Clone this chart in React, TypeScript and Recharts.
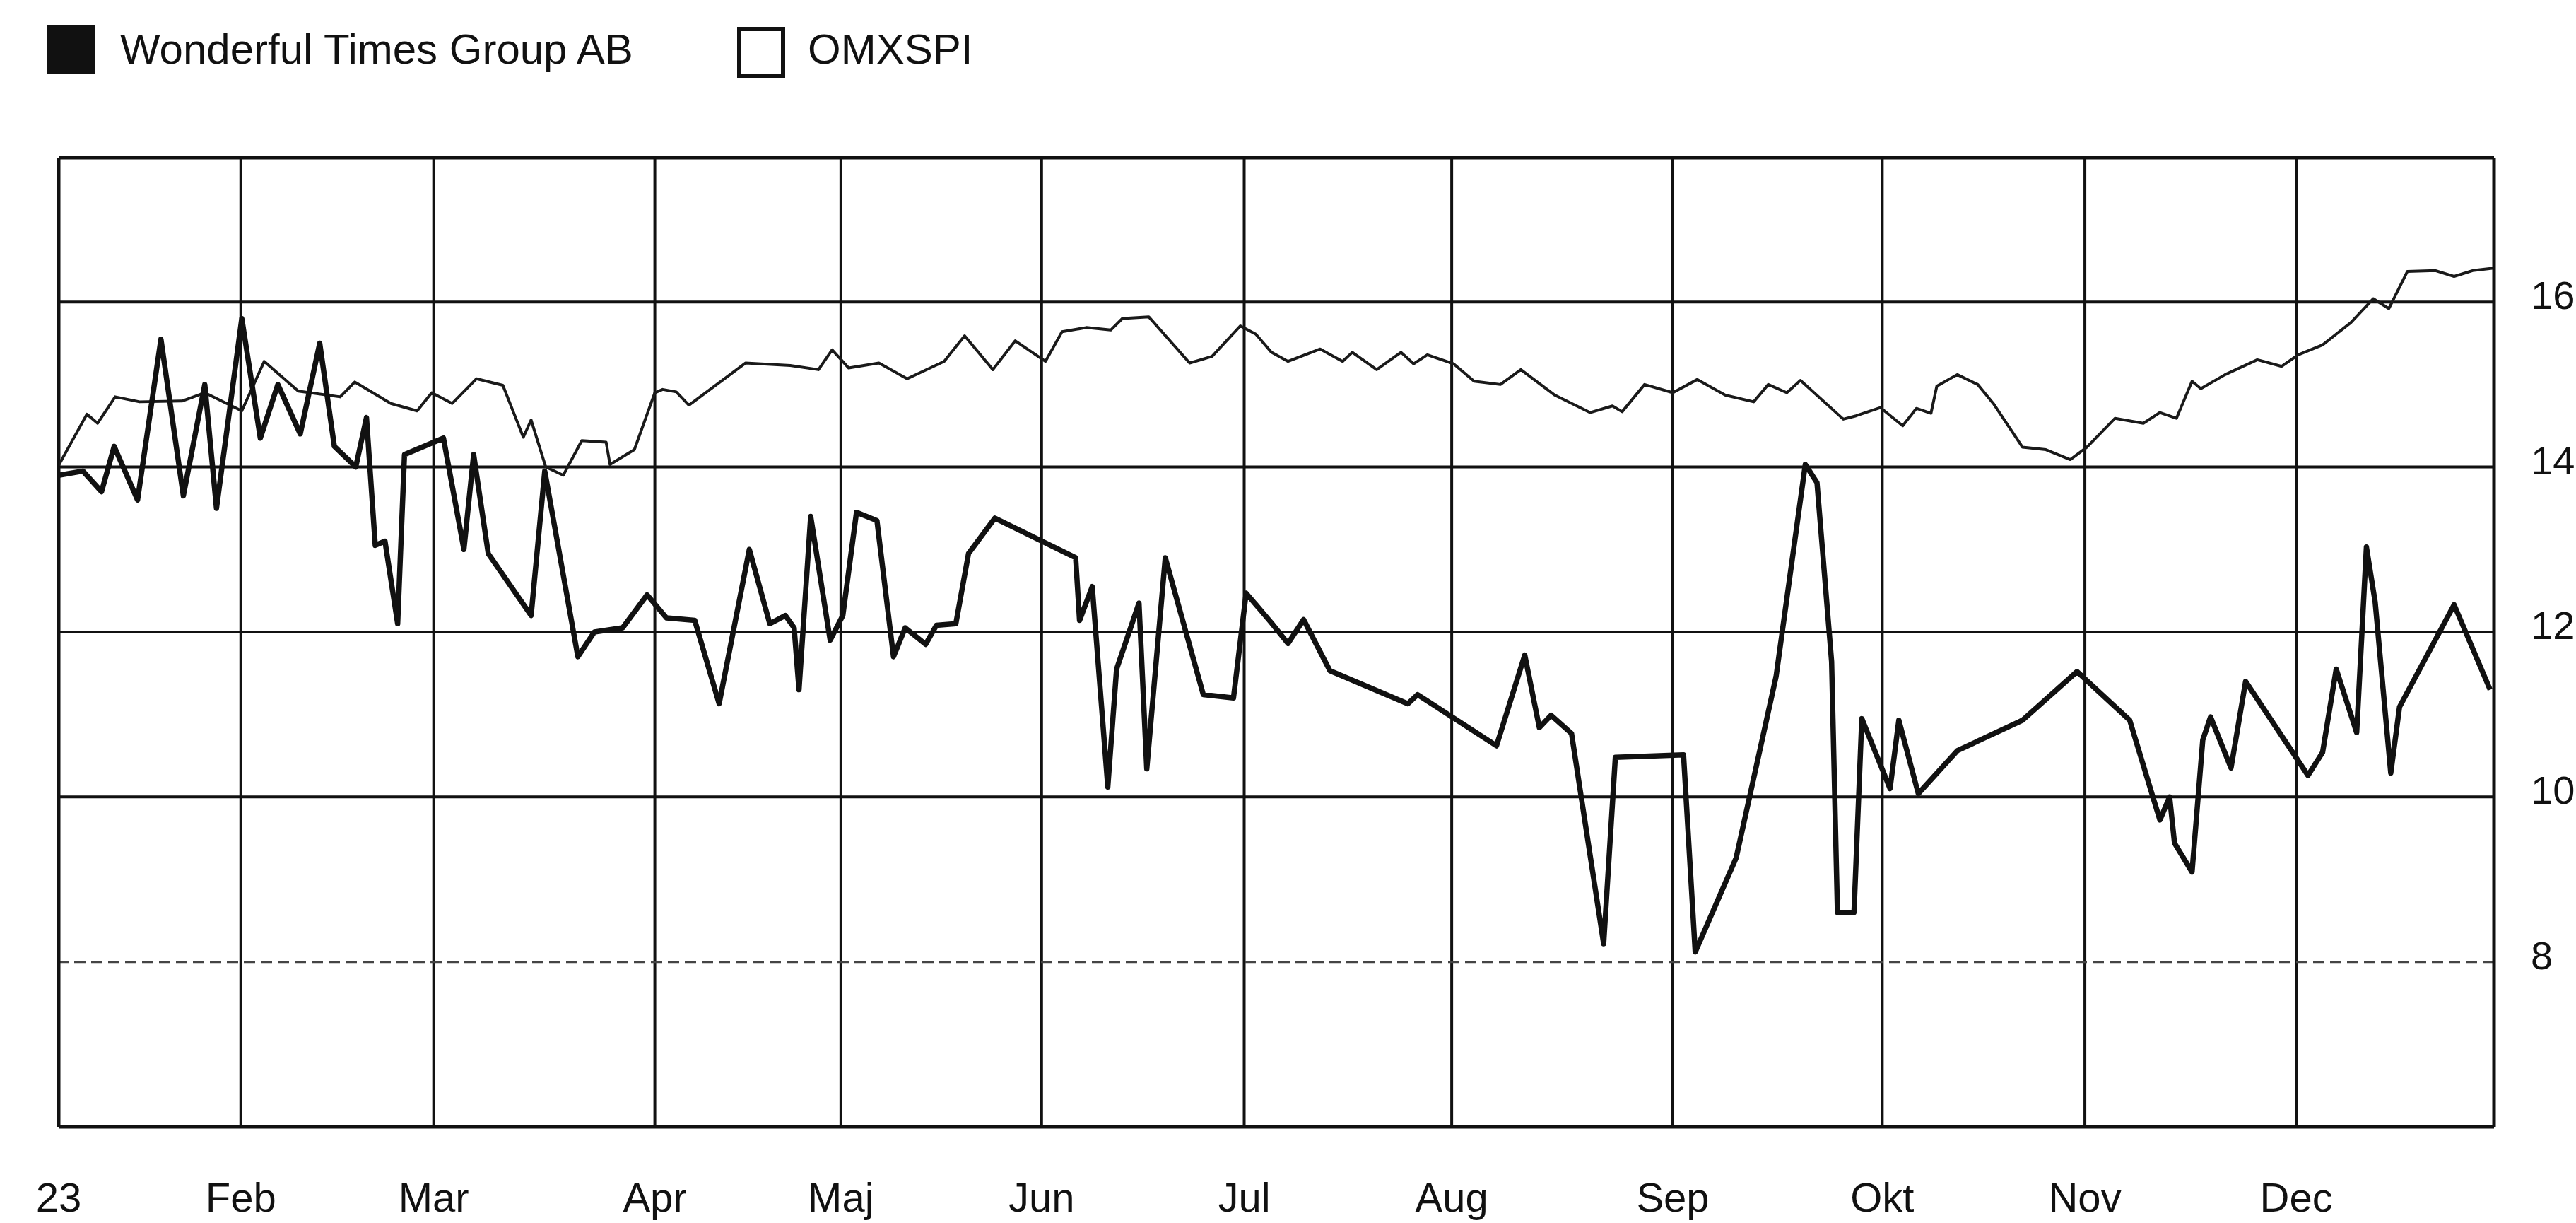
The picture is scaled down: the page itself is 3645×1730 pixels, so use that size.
import { LineChart, Line, XAxis, YAxis, CartesianGrid, ReferenceLine } from 'recharts';

// x = trading day of the year (0..250), y = share price (SEK), OMXSPI rebased to the share
const stockX = [
  0, 2.5, 4.4, 5.7, 8.1, 10.5, 12.8, 15.0, 16.2, 18.8, 20.7, 22.5, 24.8, 26.8, 28.3, 30.5,
  31.6, 32.5, 33.5, 34.8, 35.5, 39.5, 41.6, 42.6, 44.1, 48.5, 49.9, 53.3, 55.0, 57.9, 60.4,
  62.4, 65.3, 67.8, 70.9, 73.0, 74.6, 75.5, 76.0, 77.2, 79.2, 80.5, 81.9, 84.0, 85.7, 86.9,
  89.0, 90.1, 92.1, 93.4, 96.1, 104.4, 104.8, 106.1, 107.7, 108.6, 110.9, 111.7, 113.6,
  117.5, 120.6, 121.9, 124.5, 126.2, 127.8, 130.5, 138.5, 139.5, 147.6, 150.5, 152.0, 153.2,
  155.3, 158.6, 159.8, 166.8, 168.0, 172.2, 176.3, 179.3, 180.5, 182.0, 182.6, 184.3, 185.1,
  188.0, 188.9, 190.9, 194.9, 201.6, 207.2, 212.6, 215.7, 216.7, 217.2, 219.0, 220.1, 220.9,
  223.0, 224.5, 230.9, 232.4, 233.8, 235.9, 236.9, 237.8, 239.4, 240.3, 245.9, 249.6,
];
const stockY = [
  13.9, 13.95, 13.7, 14.25, 13.6, 15.55, 13.65, 15.0, 13.5, 15.8, 14.35, 15.0, 14.4, 15.5, 14.25, 14.0,
  14.6, 13.05, 13.1, 12.1, 14.15, 14.35, 13.0, 14.15, 12.95, 12.2, 13.95, 11.7, 12.0, 12.05, 12.45,
  12.17, 12.14, 11.13, 13.0, 12.1, 12.2, 12.05, 11.3, 13.4, 11.9, 12.2, 13.45, 13.35, 11.7, 12.05,
  11.85, 12.08, 12.1, 12.95, 13.38, 12.9, 12.14, 12.55, 10.12, 11.55, 12.35, 10.34, 12.9,
  11.24, 11.2, 12.47, 12.11, 11.86, 12.15, 11.53, 11.13, 11.24, 10.62, 11.72, 10.84, 10.99,
  10.77, 8.22, 10.48, 10.51, 8.12, 9.26, 11.46, 14.03, 13.81, 11.64, 8.6, 8.6, 10.95,
  10.1, 10.93, 10.04, 10.56, 10.93, 11.52, 10.93, 9.72, 10.0, 9.44, 9.09, 10.69, 10.97,
  10.35, 11.4, 10.26, 10.54, 11.55, 10.78, 13.03, 12.36, 10.29, 11.09, 12.33, 11.3,
];

const omxX = [
  0, 2.9, 4.0, 5.8, 8.3, 12.7, 15.0, 18.8, 21.1, 24.6, 28.9, 30.4, 34.1, 36.8, 38.3, 40.4,
  42.9, 45.6, 47.7, 48.5, 50.0, 51.8, 53.7, 56.2, 56.6, 59.1, 61.2, 62.0, 63.4, 64.7, 70.5,
  75.1, 78.0, 79.4, 81.1, 84.2, 87.1, 90.9, 93.0, 95.9, 98.2, 101.3, 103.0, 105.5, 108.0,
  109.2, 111.9, 116.1, 118.4, 121.3, 122.9, 124.5, 126.2, 129.5, 131.8, 132.8, 135.3, 137.8,
  139.1, 140.5, 143.2, 145.3, 148.0, 150.1, 153.6, 157.2, 159.5, 160.5, 162.8, 165.7, 168.2,
  171.1, 174.0, 175.5, 177.4, 178.8, 183.2, 184.5, 187.0, 189.3, 190.7, 192.2, 192.8, 194.9,
  197.0, 198.6, 201.6, 204.0, 206.5, 208.2, 211.1, 214.0, 215.7, 217.4, 219.0, 219.9, 222.4,
  225.7, 228.2, 229.9, 232.4, 235.3, 237.6, 239.2, 241.1, 244.0, 245.9, 247.8, 250,
];
const omxY = [
  14.02, 14.64, 14.53, 14.85, 14.79, 14.8, 14.9, 14.68, 15.28, 14.92, 14.85, 15.03, 14.77, 14.68, 14.9, 14.77,
  15.07, 14.99, 14.36, 14.57, 14.0, 13.9, 14.32, 14.3, 14.03, 14.21, 14.9, 14.94, 14.91, 14.75, 15.26,
  15.23, 15.18, 15.42, 15.2, 15.26, 15.07, 15.28, 15.59, 15.18, 15.53, 15.28, 15.64, 15.69, 15.66,
  15.8, 15.82, 15.26, 15.34, 15.71, 15.61, 15.39, 15.28, 15.43, 15.28, 15.39, 15.18, 15.39,
  15.25, 15.36, 15.25, 15.04, 15.0, 15.18, 14.87, 14.66, 14.74, 14.67, 15.0, 14.9, 15.06,
  14.87, 14.79, 15.0, 14.9, 15.05, 14.58, 14.62, 14.72, 14.5, 14.71, 14.65, 14.98, 15.12,
  15.0, 14.77, 14.24, 14.21, 14.09, 14.24, 14.59, 14.53, 14.66, 14.59, 15.04, 14.95, 15.12,
  15.3, 15.22, 15.36, 15.48, 15.75, 16.04, 15.92, 16.37, 16.38, 16.31, 16.38, 16.41,
];

const monthTicks = [0, 18.7, 38.5, 61.2, 80.3, 100.9, 121.7, 143.0, 165.7, 187.2, 208.0, 229.7];
const monthLabels = ['23', 'Feb', 'Mar', 'Apr', 'Maj', 'Jun', 'Jul', 'Aug', 'Sep', 'Okt', 'Nov', 'Dec'];
const priceTicks = [8, 10, 12, 14, 16];
const solidGrid = [10, 12, 14, 16];

const stockData = stockX.map((x, i) => ({ x, y: stockY[i] }));
const omxData = omxX.map((x, i) => ({ x, y: omxY[i] }));

const FONT = '"Liberation Sans", Arial, Helvetica, sans-serif';
const INK = '#111111';

function MonthTick(props: any) {
  const { x, y, payload } = props;
  const idx = monthTicks.indexOf(payload.value);
  return (
    <text x={x} y={y + 118} textAnchor="middle" fontFamily={FONT} fontSize={58} fill={INK}>
      {idx >= 0 ? monthLabels[idx] : ''}
    </text>
  );
}

function PriceTick(props: any) {
  const { x, y, payload } = props;
  return (
    <text x={x + 50} y={y + 10} textAnchor="start" fontFamily={FONT} fontSize={56} fill={INK}>
      {payload.value}
    </text>
  );
}

function LegendBox() {
  const text: React.CSSProperties = {
    position: 'absolute',
    fontFamily: FONT,
    fontSize: 60,
    color: INK,
    lineHeight: '60px',
    whiteSpace: 'nowrap',
  };
  return (
    <>
      <div style={{ position: 'absolute', left: 66, top: 35, width: 68, height: 70, background: INK }} />
      <div style={{ ...text, left: 170, top: 40 }}>Wonderful Times Group AB</div>
      <div
        style={{
          position: 'absolute',
          left: 1043,
          top: 38,
          width: 56,
          height: 60,
          border: `6px solid ${INK}`,
          background: '#fff',
        }}
      />
      <div style={{ ...text, left: 1143, top: 40 }}>OMXSPI</div>
    </>
  );
}

export default function App() {
  return (
    <div
      style={{
        position: 'absolute',
        left: 0,
        top: 0,
        width: 3645,
        height: 1730,
        background: '#ffffff',
        overflow: 'hidden',
      }}
    >
      <LegendBox />
      <div style={{ position: 'absolute', left: 0, top: 0 }}>
        <LineChart
          width={3645}
          height={1730}
          margin={{ top: 223, right: 16, bottom: 16, left: 83 }}
        >
          <CartesianGrid
            stroke={INK}
            strokeWidth={4}
            verticalValues={monthTicks}
            horizontalValues={solidGrid}
          />
          <ReferenceLine y={8} stroke="#444" strokeWidth={3} strokeDasharray="16 8" />
          <ReferenceLine y={17.75} stroke={INK} strokeWidth={5} />
          <ReferenceLine x={0} stroke={INK} strokeWidth={5} />
          <XAxis
            type="number"
            dataKey="x"
            domain={[0, 250]}
            ticks={monthTicks}
            interval={0}
            allowDataOverflow
            height={120}
            tickSize={0}
            tickLine={false}
            axisLine={{ stroke: INK, strokeWidth: 5 }}
            tick={<MonthTick />}
          />
          <YAxis
            orientation="right"
            type="number"
            domain={[6, 17.75]}
            ticks={priceTicks}
            allowDataOverflow
            width={100}
            tickSize={0}
            tickLine={false}
            axisLine={{ stroke: INK, strokeWidth: 5 }}
            tick={<PriceTick />}
          />
          <Line
            data={omxData}
            dataKey="y"
            type="linear"
            stroke="#1a1a1a"
            strokeWidth={4}
            dot={false}
            strokeLinejoin="round"
            isAnimationActive={false}
          />
          <Line
            data={stockData}
            dataKey="y"
            type="linear"
            stroke={INK}
            strokeWidth={7.5}
            dot={false}
            strokeLinejoin="round"
            isAnimationActive={false}
          />
        </LineChart>
      </div>
    </div>
  );
}
